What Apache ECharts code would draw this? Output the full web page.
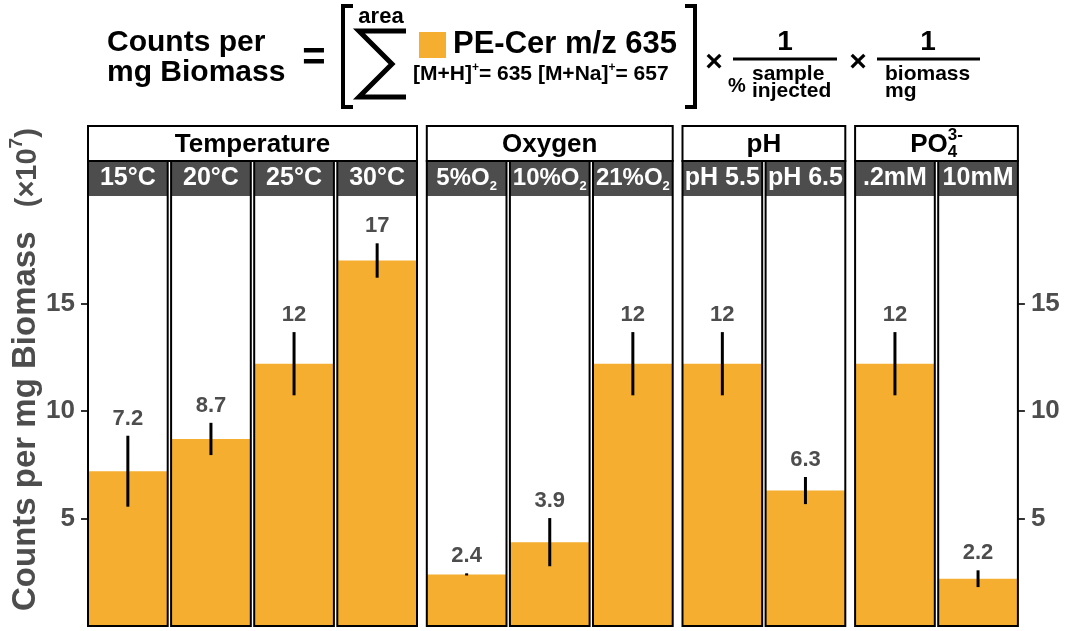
<!DOCTYPE html>
<html>
<head>
<meta charset="utf-8">
<script src="https://cdn.jsdelivr.net/npm/echarts@6/dist/echarts.min.js"></script>
<style>
  html, body { margin: 0; padding: 0; background: #fff; }
  #main { width: 1065px; height: 631px; }
</style>
</head>
<body>
<div id="main"></div>
<script>
// facet groups and their panels
const groupNames = ['Temperature', 'Oxygen', 'pH', 'PO4'];
const groupSizes = [4, 3, 2, 2];
const panelNames = ['15°C', '20°C', '25°C', '30°C', '5%O2', '10%O2', '21%O2', 'pH 5.5', 'pH 6.5', '.2mM', '10mM'];
// counts per mg biomass (x10^7) and error bar half-widths
const counts = [7.2, 8.7, 12.2, 17.0, 2.4, 3.9, 12.2, 12.2, 6.3, 12.2, 2.2];
const errors = [1.65, 0.75, 1.47, 0.8, 0.05, 1.12, 1.47, 1.47, 0.63, 1.47, 0.39];
const yTicks = [5, 10, 15];

const FONT = '"Liberation Sans", Arial, sans-serif';
const BAR = '#f5ae2f';
const STRIP = '#4d4d4d';
const GREY = '#4d4d4d';
const X0 = 88, PW = 79.7, GAP = 3.4, GGAP = 9.8;
const STRIP_TOP = 126, STRIP_MID = 161, PANEL_TOP = 196, PANEL_BOT = 626;

const ctx = document.createElement('canvas').getContext('2d');
function textWidth(t, size) {
  ctx.font = 'bold ' + size + 'px ' + FONT;
  return ctx.measureText(t).width;
}
function txt(t, x, y, size, color, align) {
  return {
    type: 'text', x: x, y: y, z: 120,
    style: {
      text: t, fontSize: size, fontWeight: 'bold', fontFamily: FONT, fill: color,
      align: align || 'left', textAlign: align || 'left',
      verticalAlign: 'middle', textVerticalAlign: 'middle'
    }
  };
}
// a row of text pieces: [text, size, dy, noAdvance]
function runs(parts, x, y, align, color) {
  let total = 0;
  parts.forEach(p => { if (!p[3]) total += textWidth(p[0], p[1]); });
  let cx = align === 'center' ? x - total / 2 : x;
  return parts.map(p => {
    const el = txt(p[0], cx, y + (p[2] || 0), p[1], color, 'left');
    if (!p[3]) cx += textWidth(p[0], p[1]);
    return el;
  });
}
function poly(points, w) {
  return { type: 'polyline', z: 120, shape: { points: points },
    style: { stroke: '#000', lineWidth: w, fill: null, lineJoin: 'miter' } };
}
function hline(x1, x2, y) {
  return { type: 'line', z: 120, shape: { x1: x1, y1: y, x2: x2, y2: y },
    style: { stroke: '#000', lineWidth: 3 } };
}

// panel positions
const panelX = [], groupX = [];
let x = X0;
groupSizes.forEach(n => {
  const gx0 = x;
  for (let k = 0; k < n; k++) {
    panelX.push(x);
    x += PW + (k < n - 1 ? GAP : 0);
  }
  groupX.push([gx0, x]);
  x += GGAP;
});

const labels = counts.map(v => String(Number(v.toPrecision(2))));
const grid = [], xAxis = [], yAxis = [], series = [], graphic = [];
const last = panelNames.length - 1;

panelNames.forEach((name, i) => {
  grid.push({ left: panelX[i], top: PANEL_TOP, width: PW, height: PANEL_BOT - PANEL_TOP,
    show: false });
  xAxis.push({ type: 'category', gridIndex: i, data: [name], show: false });
  const showAxis = i === 0 || i === last;
  yAxis.push({
    type: 'value', gridIndex: i, min: 0, max: 20, interval: 5,
    position: i === last ? 'right' : 'left',
    show: showAxis,
    axisLine: { show: false },
    splitLine: { show: false },
    axisTick: { show: true, length: 7, customValues: yTicks, lineStyle: { color: '#333', width: 2 } },
    axisLabel: { customValues: yTicks, margin: 13,
      color: GREY, fontSize: 26, fontWeight: 'bold', fontFamily: FONT }
  });
  series.push({
    type: 'bar', xAxisIndex: i, yAxisIndex: i, data: [counts[i]],
    barWidth: '100%', itemStyle: { color: BAR }, silent: true
  });
  series.push({
    type: 'custom', xAxisIndex: i, yAxisIndex: i, z: 5,
    data: [[0, counts[i], errors[i]]],
    renderItem: (params, api) => {
      const m = api.value(1), e = api.value(2);
      const top = api.coord([0, m + e]);
      const bot = api.coord([0, m - e]);
      return { type: 'group', children: [
        { type: 'line', shape: { x1: top[0], y1: top[1], x2: bot[0], y2: Math.max(bot[1], top[1] + 1.5) },
          style: { stroke: '#000', lineWidth: 3 } },
        { type: 'text', x: top[0], y: top[1] - 17,
          style: { text: labels[i], fontSize: 22, fontWeight: 'bold', fontFamily: FONT, fill: GREY,
            align: 'center', textAlign: 'center', verticalAlign: 'middle', textVerticalAlign: 'middle' } }
      ] };
    }
  });

  // dark strip + panel frame
  graphic.push({ type: 'rect', z: 110, shape: { x: panelX[i], y: STRIP_MID, width: PW, height: PANEL_TOP - STRIP_MID },
    style: { fill: STRIP } });
  graphic.push({ type: 'rect', z: 115, shape: { x: panelX[i], y: STRIP_MID, width: PW, height: PANEL_BOT - STRIP_MID },
    style: { fill: null, stroke: '#000', lineWidth: 2 } });
  const cx = panelX[i] + PW / 2, cy = (STRIP_MID + PANEL_TOP) / 2;
  const parts = /O2$/.test(name) ? [[name.slice(0, -1), 24], ['2', 13, 8]] : [[name, 25]];
  graphic.push(...runs(parts, cx, cy, 'center', '#fff'));
});

// outer group strips
groupNames.forEach((g, j) => {
  const [a, b] = groupX[j];
  graphic.push({ type: 'rect', z: 110, shape: { x: a, y: STRIP_TOP, width: b - a, height: STRIP_MID - STRIP_TOP },
    style: { fill: '#fff', stroke: '#000', lineWidth: 2 } });
  const parts = g === 'PO4' ? [['PO', 26], ['4', 17, 8, true], ['3-', 17, -9]] : [[g, 26]];
  graphic.push(...runs(parts, (a + b) / 2, (STRIP_TOP + STRIP_MID) / 2 + 1, 'center', '#000'));
});

// y axis title (rotated)
graphic.push({
  type: 'group', x: 26, y: 611, rotation: Math.PI / 2,
  children: runs([['Counts per mg Biomass', 33], ['   (×10', 29, 2], ['7', 19, -9], [')', 29, 2]], 0, 0, 'left', GREY)
});

// formula header
graphic.push(
  ...runs([['Counts per', 30]], 107, 43, 'left', '#000'),
  ...runs([['mg Biomass', 30]], 107, 73, 'left', '#000'),
  txt('=', 314, 59, 40, '#000', 'center'),
  poly([[353, 6], [343, 6], [343, 107], [353, 107]], 4),
  txt('area', 381, 17, 22, '#000', 'center'),
  poly([[406, 31], [359, 31], [392, 64], [359, 97], [406, 97]], 5),
  { type: 'rect', z: 120, shape: { x: 419, y: 32, width: 27, height: 26 }, style: { fill: BAR } },
  ...runs([['PE-Cer m/z 635', 31]], 453, 44, 'left', '#000'),
  ...runs([['[M+H]', 21], ['+', 12, -6], ['= 635 [M+Na]', 21], ['+', 12, -6], ['= 657', 21]], 413, 74, 'left', '#000'),
  poly([[685, 6], [695, 6], [695, 107], [685, 107]], 4),
  txt('×', 714, 63, 30, '#000', 'center'),
  hline(733, 837, 59),
  txt('1', 785, 42, 28, '#000', 'center'),
  txt('%', 737, 86, 20, '#000', 'center'),
  ...runs([['sample', 21]], 752, 74, 'left', '#000'),
  ...runs([['injected', 21]], 752, 91, 'left', '#000'),
  txt('×', 858, 63, 30, '#000', 'center'),
  hline(877, 980, 59),
  txt('1', 928, 42, 28, '#000', 'center'),
  ...runs([['biomass', 21]], 885, 74, 'left', '#000'),
  ...runs([['mg', 21]], 885, 91, 'left', '#000')
);

const chart = echarts.init(document.getElementById('main'));
chart.setOption({
  animation: false,
  backgroundColor: '#fff',
  grid: grid,
  xAxis: xAxis,
  yAxis: yAxis,
  series: series,
  graphic: { elements: graphic }
});
</script>
</body>
</html>
